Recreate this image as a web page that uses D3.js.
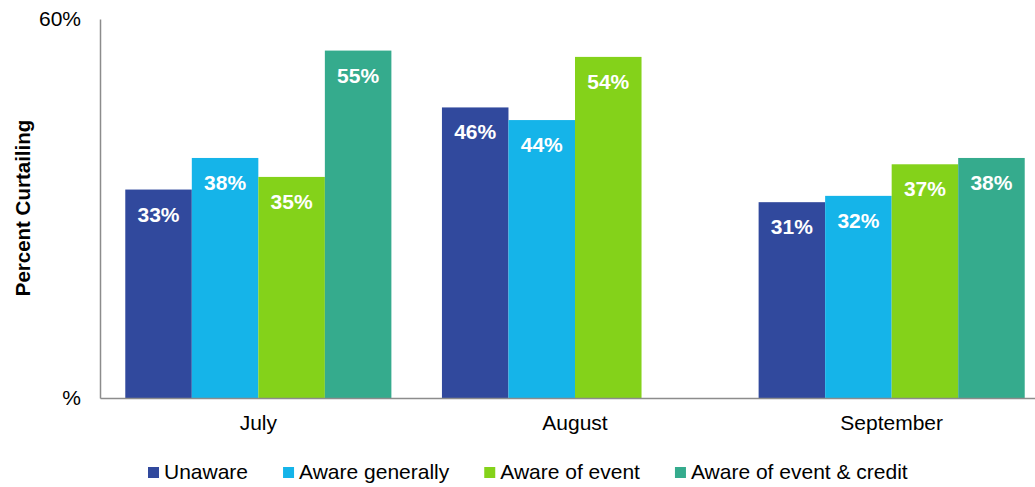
<!DOCTYPE html>
<html>
<head>
<meta charset="utf-8">
<script src="https://cdn.jsdelivr.net/npm/d3@7"></script>
<style>
  html, body { margin: 0; padding: 0; background: #fff; }
  svg { display: block; font-family: "Liberation Sans", Arial, sans-serif; }
</style>
</head>
<body>
<svg id="chart" width="1035" height="487"></svg>
<script>
// Survey results: share of customers curtailing, by month and awareness group
const months = ["July", "August", "September"];
const seriesNames = ["Unaware", "Aware generally", "Aware of event", "Aware of event & credit"];
const unaware = [33, 46, 31];
const awareGenerally = [38, 44, 32];
const awareOfEvent = [35, 54, 37];
const awareEventCredit = [55, null, 38];
const yTickValues = [0, 60];
const yTickLabels = ["%", "60%"];
const colors = ["#31499D", "#15B4E9", "#84D21A", "#35AB8D"];

const seriesValues = [unaware, awareGenerally, awareOfEvent, awareEventCredit];
const rows = [];
months.forEach((m, i) => {
  seriesNames.forEach((s, j) => {
    const v = seriesValues[j][i];
    if (v != null) rows.push({ month: m, series: s, value: v, idx: j });
  });
});

const svg = d3.select("#chart");
const plotLeft = 100, plotRight = 1050, plotTop = 19, plotBottom = 398;

const x0 = d3.scaleBand().domain(months).range([plotLeft, plotRight]);
const x1 = d3.scaleBand().domain(seriesNames).range([0, x0.bandwidth()])
  .paddingInner(0).paddingOuter(0.38);
const y = d3.scaleLinear().domain([0, 60]).range([plotBottom, plotTop]);

// Bars
svg.append("g").selectAll("rect").data(rows).join("rect")
  .attr("x", d => x0(d.month) + x1(d.series))
  .attr("y", d => y(d.value))
  .attr("width", x1.bandwidth())
  .attr("height", d => y(0) - y(d.value))
  .attr("fill", d => colors[d.idx]);

// Value labels inside bars
svg.append("g").selectAll("text").data(rows).join("text")
  .attr("x", d => x0(d.month) + x1(d.series) + x1.bandwidth() / 2)
  .attr("y", d => y(d.value) + 32)
  .attr("text-anchor", "middle")
  .attr("fill", "#fff")
  .attr("font-weight", "bold")
  .attr("font-size", "21px")
  .text(d => d.value + "%");

// Y axis
const yAxis = d3.axisLeft(y).tickValues(yTickValues)
  .tickFormat((d, i) => yTickLabels[i]).tickSize(0).tickPadding(19);
const gy = svg.append("g").attr("transform", `translate(${plotLeft},0)`).call(yAxis);
gy.select(".domain").attr("stroke", "#8c8c8c").attr("stroke-width", 1.5);
gy.selectAll("text").attr("font-size", "21px").attr("fill", "#000")
  .attr("font-family", "Liberation Sans, Arial, sans-serif");

// X axis
const xAxis = d3.axisBottom(x0).tickSize(0).tickPadding(17);
const gx = svg.append("g").attr("transform", `translate(0,${plotBottom})`).call(xAxis);
gx.select(".domain").attr("stroke", "#8c8c8c").attr("stroke-width", 1.5);
gx.selectAll("text").attr("font-size", "21px").attr("fill", "#000")
  .attr("font-family", "Liberation Sans, Arial, sans-serif");

// Y axis title
svg.append("text")
  .attr("transform", "translate(30,208) rotate(-90)")
  .attr("text-anchor", "middle")
  .attr("font-weight", "bold")
  .attr("font-size", "20.5px")
  .text("Percent Curtailing");

// Legend
const legend = svg.append("g");
let lx = 148;
seriesNames.forEach((s, j) => {
  legend.append("rect").attr("x", lx).attr("y", 467).attr("width", 11).attr("height", 11)
    .attr("fill", colors[j]);
  const t = legend.append("text").attr("x", lx + 16).attr("y", 479)
    .attr("font-size", "21px").attr("fill", "#000").text(s);
  lx += 16 + t.node().getComputedTextLength() + 35;
});
</script>
</body>
</html>
